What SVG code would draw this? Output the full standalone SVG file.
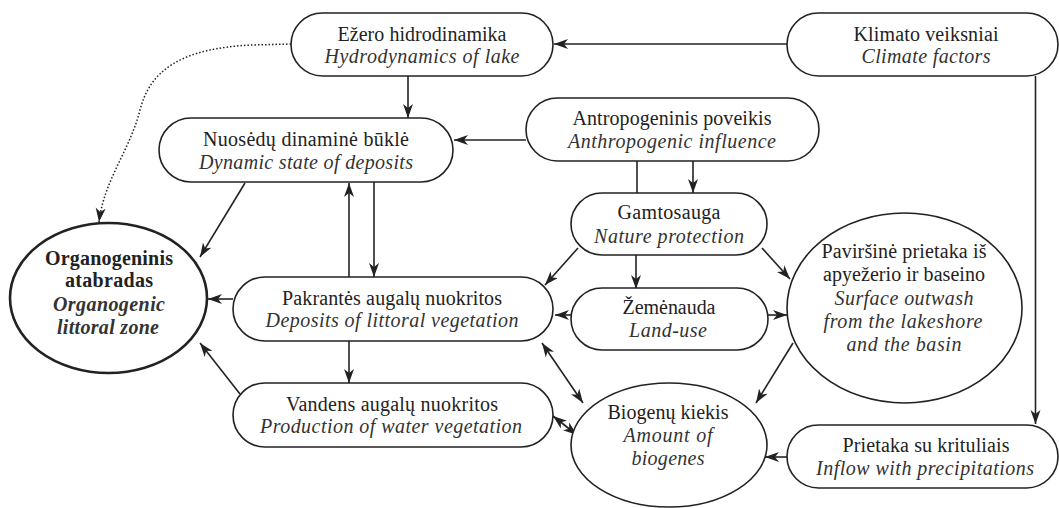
<svg xmlns="http://www.w3.org/2000/svg" width="1059" height="508" viewBox="0 0 1059 508">
<style>
.n{fill:#fff;stroke:#222;stroke-width:1.6}
.nb{fill:#fff;stroke:#222;stroke-width:2.6}
text{font-family:"Liberation Serif","Times New Roman",serif;font-size:20px;fill:#222;text-anchor:middle}
.i{font-style:italic;fill:#333}
.b{font-weight:bold}
.c line,.c path{stroke:#222;stroke-width:1.6;fill:none}
.c .a{marker-end:url(#ah)}
.c .d{marker-start:url(#ah);marker-end:url(#ah)}
.c .dot{stroke-dasharray:1.5 2;stroke-width:1.5}
</style>
<defs>
<marker id="ah" markerUnits="userSpaceOnUse" viewBox="0 0 15 11" markerWidth="15" markerHeight="11" refX="14" refY="5" orient="auto-start-reverse">
<path d="M0,0 L14,5 L0,10 L4,5 Z" fill="#222"/>
</marker>
</defs>
<rect width="1059" height="508" fill="#fff"/>
<g class="c" id="connectors">
<line class="a" x1="787" y1="44" x2="554" y2="44"/>
<line class="a" x1="1035.5" y1="76" x2="1035.5" y2="424"/>
<line class="a" x1="408" y1="76" x2="408" y2="118"/>
<line class="a" x1="526" y1="140" x2="454" y2="140"/>
<line x1="637" y1="161" x2="637" y2="193"/>
<line class="a" x1="693" y1="161" x2="693" y2="193"/>
<path class="a dot" d="M291,44 L252,45 C182,48 150,70 140,110 C130,150 104,180 99,222"/>
<line class="a" x1="245" y1="183" x2="200" y2="257"/>
<line class="a" x1="349" y1="277" x2="349" y2="183"/>
<line class="a" x1="374" y1="182" x2="374" y2="277"/>
<line class="a" x1="233" y1="299" x2="208" y2="299"/>
<line class="a" x1="349" y1="341" x2="349" y2="383"/>
<line class="a" x1="240" y1="394" x2="200" y2="343"/>
<line class="a" x1="578" y1="248" x2="545" y2="285"/>
<line class="a" x1="636" y1="255" x2="636" y2="289"/>
<line class="a" x1="762" y1="248" x2="790" y2="279"/>
<line class="a" x1="572" y1="315" x2="555" y2="315"/>
<line class="a" x1="766" y1="315" x2="787" y2="315"/>
<line class="d" x1="542" y1="343" x2="583" y2="403"/>
<line class="d" x1="553" y1="416" x2="577" y2="435"/>
<line class="a" x1="793" y1="343" x2="756" y2="403"/>
<line class="a" x1="787" y1="457" x2="765" y2="457"/>
</g>
<g id="ezero">
<rect class="n" x="291" y="13" width="262" height="63" rx="31.5"/>
<text x="422" y="41" textLength="169">Ežero hidrodinamika</text>
<text class="i" x="422" y="63" textLength="195">Hydrodynamics of lake</text>
</g>
<g id="klimato">
<rect class="n" x="787" y="13" width="271" height="63" rx="31.5"/>
<text x="926" y="41" textLength="145">Klimato veiksniai</text>
<text class="i" x="926" y="63" textLength="129">Climate factors</text>
</g>
<g id="antropogeninis">
<rect class="n" x="526" y="98" width="293" height="63" rx="31.5"/>
<text x="672" y="125" textLength="199">Antropogeninis poveikis</text>
<text class="i" x="672" y="148" textLength="208">Anthropogenic influence</text>
</g>
<g id="nuosedu">
<rect class="n" x="159" y="118" width="294" height="64" rx="32"/>
<text x="306" y="146" textLength="206">Nuosėdų dinaminė būklė</text>
<text class="i" x="306" y="169" textLength="214">Dynamic state of deposits</text>
</g>
<g id="gamtosauga">
<rect class="n" x="571" y="193" width="196" height="62" rx="31"/>
<text x="669" y="219" textLength="103">Gamtosauga</text>
<text class="i" x="669" y="243" textLength="150">Nature protection</text>
</g>
<g id="organogeninis">
<ellipse class="nb" cx="108.5" cy="298" rx="98.5" ry="75"/>
<text class="b" x="109" y="265" textLength="128">Organogeninis</text>
<text class="b" x="109" y="287" textLength="88">atabradas</text>
<text class="b i" x="109" y="311" textLength="112">Organogenic</text>
<text class="b i" x="108" y="334" textLength="102">littoral zone</text>
</g>
<g id="pakrantes">
<rect class="n" x="233" y="277" width="320" height="64" rx="32"/>
<text x="392" y="305" textLength="220">Pakrantės augalų nuokritos</text>
<text class="i" x="392" y="327" textLength="253">Deposits of littoral vegetation</text>
</g>
<g id="zemenauda">
<rect class="n" x="571" y="288" width="197" height="62" rx="31"/>
<text x="669" y="314" textLength="93">Žemėnauda</text>
<text class="i" x="668" y="337" textLength="78">Land-use</text>
</g>
<g id="pavirsine">
<ellipse class="n" cx="904.5" cy="308" rx="117.5" ry="95"/>
<text x="904" y="258" textLength="165">Paviršinė prietaka iš</text>
<text x="904" y="281" textLength="162">apyežerio ir baseino</text>
<text class="i" x="904" y="305" textLength="139">Surface outwash</text>
<text class="i" x="903" y="328" textLength="159">from the lakeshore</text>
<text class="i" x="904" y="351" textLength="115">and the basin</text>
</g>
<g id="vandens">
<rect class="n" x="233" y="383" width="320" height="64" rx="32"/>
<text x="392" y="411" textLength="212">Vandens augalų nuokritos</text>
<text class="i" x="391" y="433" textLength="262">Production of water vegetation</text>
</g>
<g id="biogenu">
<ellipse class="n" cx="669" cy="445" rx="98" ry="62"/>
<text x="668" y="419" textLength="121">Biogenų kiekis</text>
<text class="i" x="668" y="442" textLength="89">Amount of</text>
<text class="i" x="668" y="465" textLength="73">biogenes</text>
</g>
<g id="prietaka">
<rect class="n" x="787" y="425" width="271" height="63" rx="31.5"/>
<text x="926" y="452" textLength="167">Prietaka su krituliais</text>
<text class="i" x="925" y="475" textLength="218">Inflow with precipitations</text>
</g>
</svg>
